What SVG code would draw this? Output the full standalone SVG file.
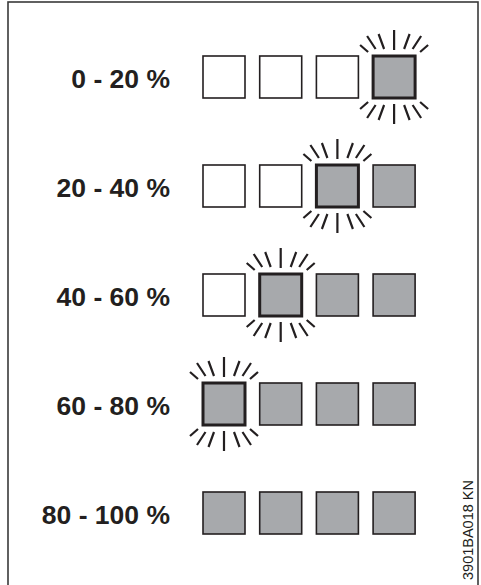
<svg xmlns="http://www.w3.org/2000/svg" xmlns:xlink="http://www.w3.org/1999/xlink" width="481" height="585" viewBox="0 0 481 585">
<style>
.frame{fill:none;stroke:#3a3a3a;stroke-width:1.6}
.off{fill:#ffffff;stroke:#231f20;stroke-width:1.6}
.on{fill:#a7a9ac;stroke:#231f20;stroke-width:1.6}
.hl{fill:#a7a9ac;stroke:#231f20;stroke-width:3}
.ray{stroke:#231f20;stroke-width:2.2;fill:none;stroke-linecap:butt}
.lbl{font-family:"Liberation Sans",Arial,sans-serif;font-weight:bold;font-size:26.5px;fill:#231f20;text-anchor:end}
.code{font-family:"Liberation Sans",Arial,sans-serif;font-size:14.5px;fill:#231f20}
</style>
<defs>
<g id="rays" class="ray">
<path d="M0,-47V-27M-10,-28L-15.5,-43M10,-28L15.5,-43M-18.5,-28L-27,-41M18.5,-28L27,-41M-26,-25L-34,-32M26,-25L34,-32"/>
<path d="M0,47V27M-10,28L-15.5,43M10,28L15.5,43M-18.5,28L-27,41M18.5,28L27,41M-26,25L-34,32M26,25L34,32"/>
</g>
</defs>
<rect class="frame" x="8" y="2" width="470" height="590"/>
<g id="row1">
<text class="lbl" x="170" y="88">0 - 20 %</text>
<rect class="off" x="203" y="56" width="42" height="42"/>
<rect class="off" x="259.7" y="56" width="42" height="42"/>
<rect class="off" x="316.4" y="56" width="42" height="42"/>
<rect class="hl" x="373.1" y="56" width="42" height="42"/>
<use xlink:href="#rays" x="394.1" y="77"/>
</g>
<g id="row2">
<text class="lbl" x="170" y="197">20 - 40 %</text>
<rect class="off" x="203" y="165" width="42" height="42"/>
<rect class="off" x="259.7" y="165" width="42" height="42"/>
<rect class="hl" x="316.4" y="165" width="42" height="42"/>
<rect class="on" x="373.1" y="165" width="42" height="42"/>
<use xlink:href="#rays" x="337.4" y="186"/>
</g>
<g id="row3">
<text class="lbl" x="170" y="306">40 - 60 %</text>
<rect class="off" x="203" y="274" width="42" height="42"/>
<rect class="hl" x="259.7" y="274" width="42" height="42"/>
<rect class="on" x="316.4" y="274" width="42" height="42"/>
<rect class="on" x="373.1" y="274" width="42" height="42"/>
<use xlink:href="#rays" x="280.7" y="295"/>
</g>
<g id="row4">
<text class="lbl" x="170" y="415">60 - 80 %</text>
<rect class="hl" x="203" y="383" width="42" height="42"/>
<rect class="on" x="259.7" y="383" width="42" height="42"/>
<rect class="on" x="316.4" y="383" width="42" height="42"/>
<rect class="on" x="373.1" y="383" width="42" height="42"/>
<use xlink:href="#rays" x="224" y="404"/>
</g>
<g id="row5">
<text class="lbl" x="170" y="524">80 - 100 %</text>
<rect class="on" x="203" y="492" width="42" height="42"/>
<rect class="on" x="259.7" y="492" width="42" height="42"/>
<rect class="on" x="316.4" y="492" width="42" height="42"/>
<rect class="on" x="373.1" y="492" width="42" height="42"/>
</g>
<text class="code" transform="translate(473,580) rotate(-90)">3901BA018 KN</text>
</svg>
